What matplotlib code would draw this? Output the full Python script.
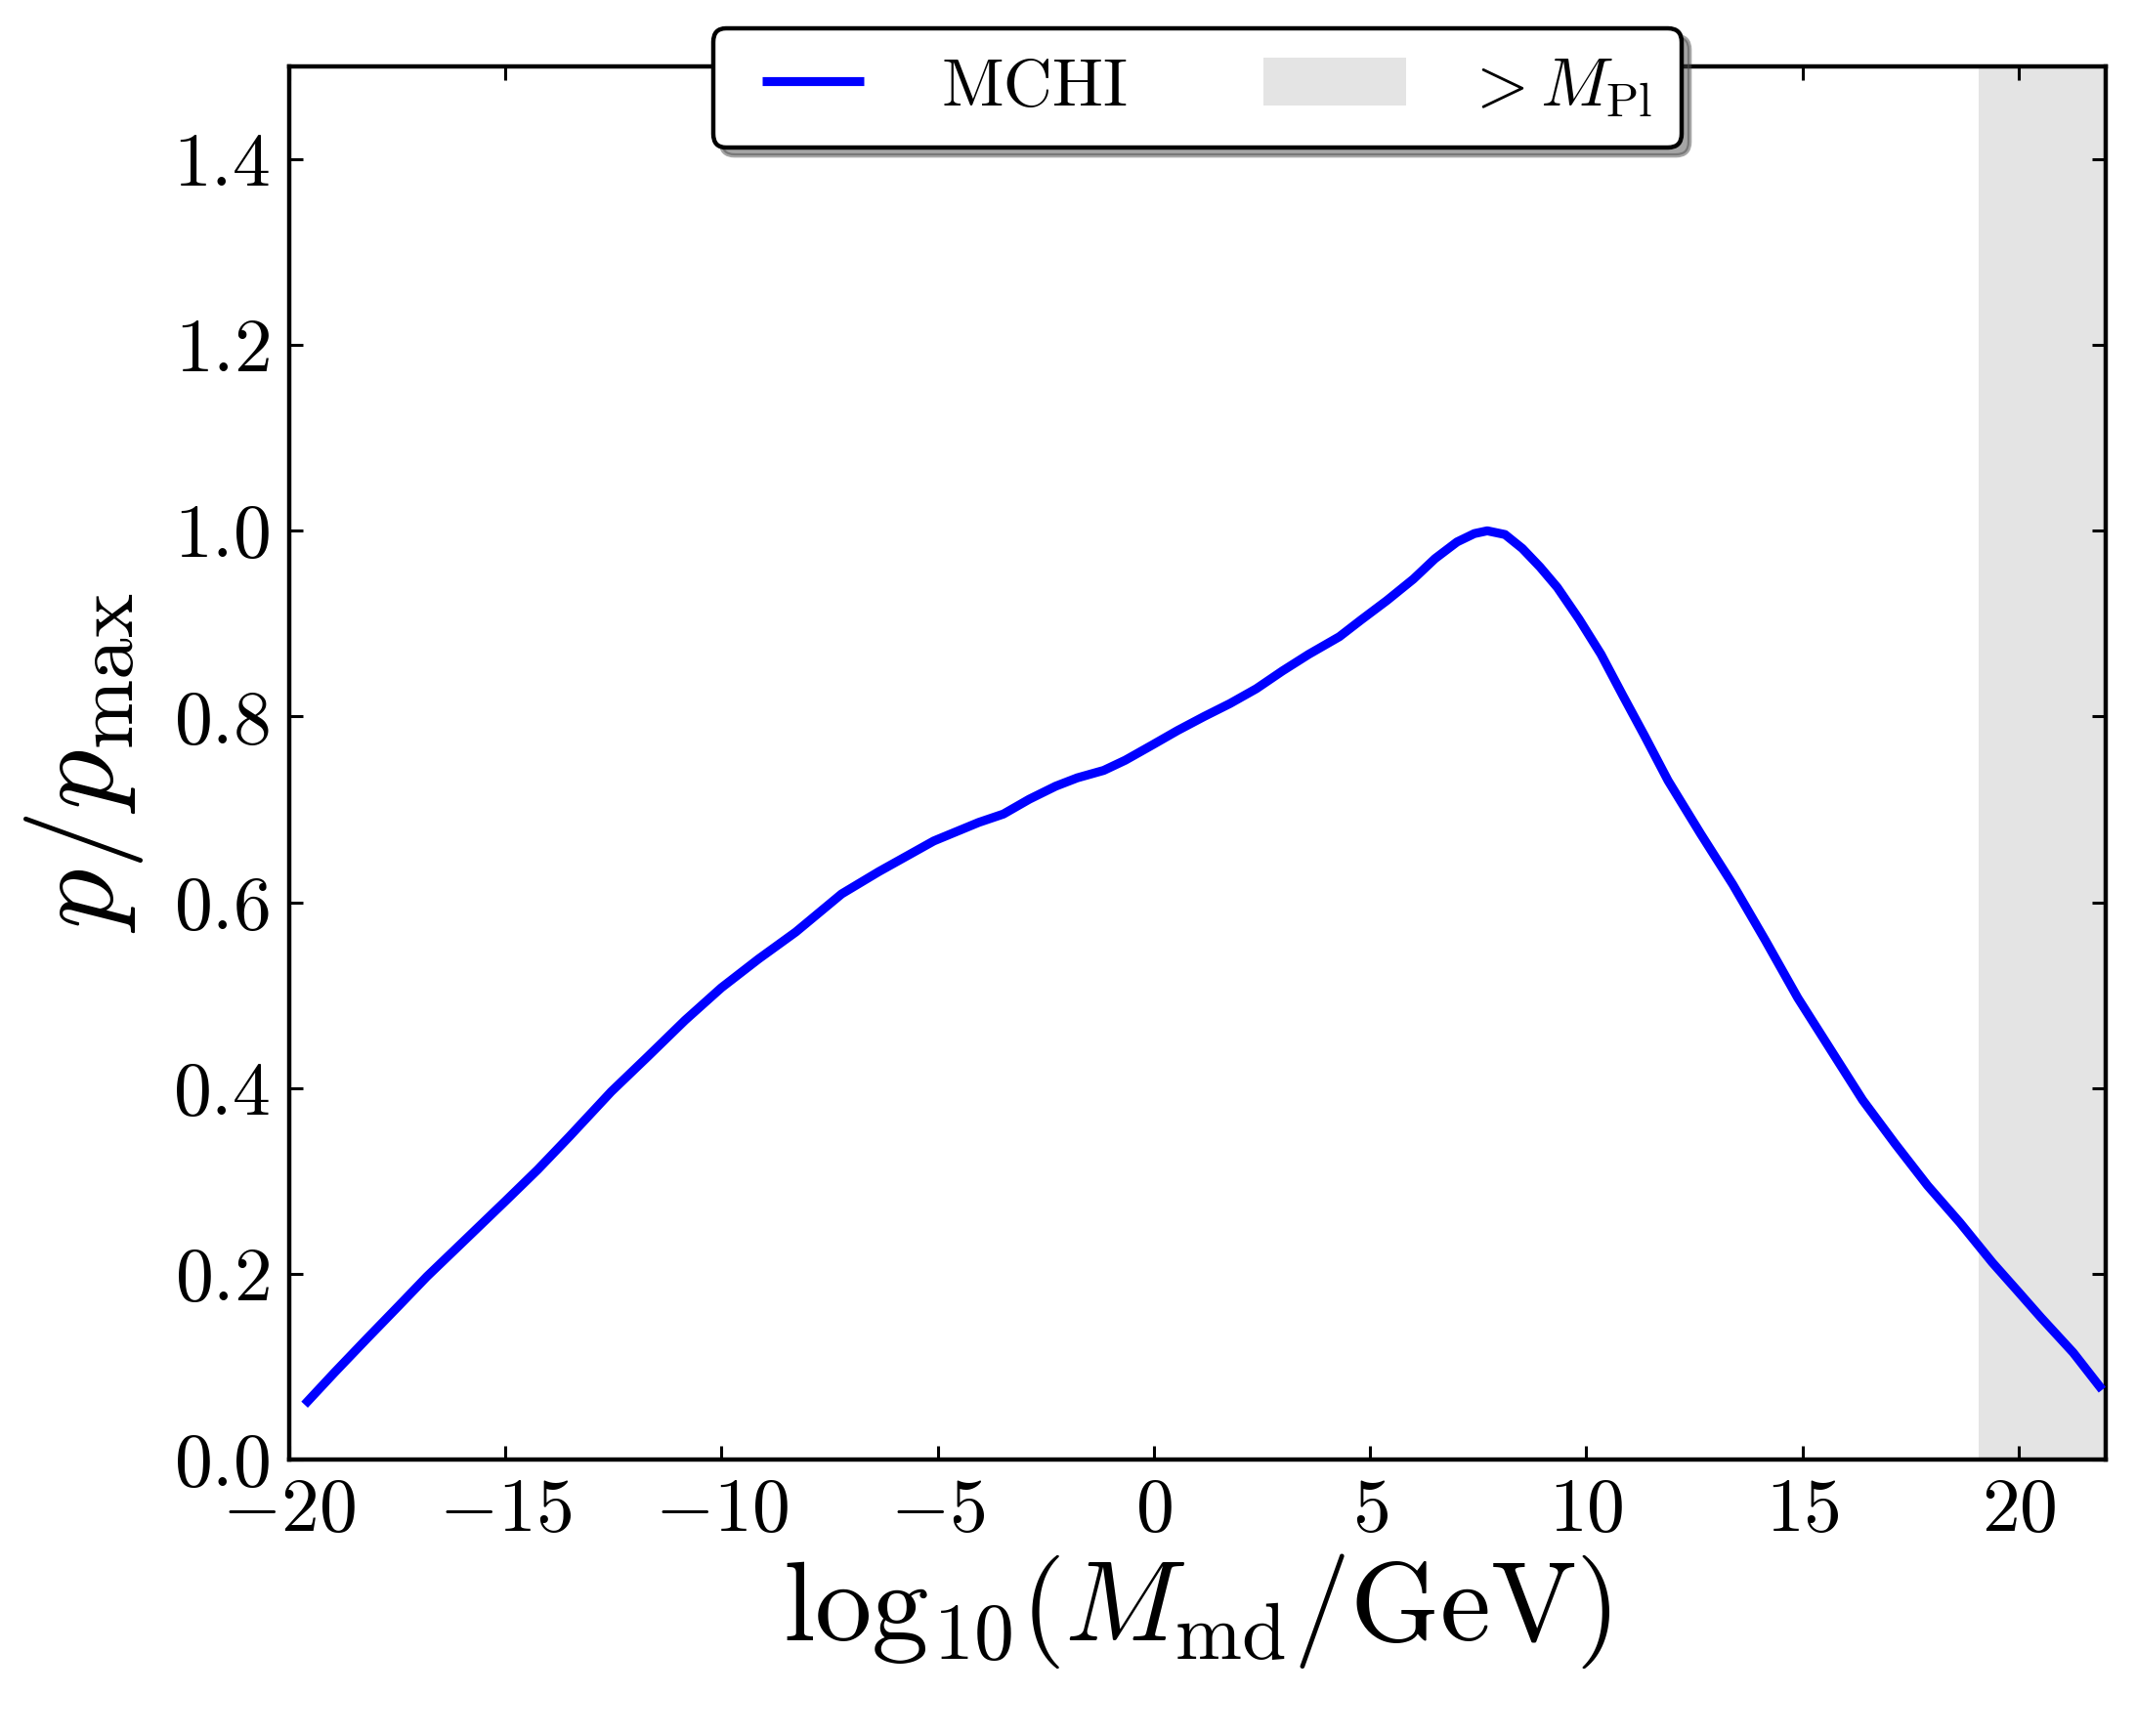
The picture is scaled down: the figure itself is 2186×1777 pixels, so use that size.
import matplotlib
matplotlib.use("Agg")
import matplotlib.pyplot as plt
from matplotlib.patches import Patch

plt.rcParams['font.family'] = 'serif'
plt.rcParams['font.serif'] = ['cmr10']
plt.rcParams['mathtext.fontset'] = 'cm'
plt.rcParams['axes.formatter.use_mathtext'] = True
plt.rcParams['axes.unicode_minus'] = True

# Data
log_mass = [-19.64, -18.94, -18.20, -17.45, -16.81, -15.96, -15.0, -14.25, -13.51,
            -12.55, -11.70, -10.84, -10.0, -9.14, -8.28, -7.22, -6.36, -5.09, -4.05,
            -3.48, -2.88, -2.27, -1.77, -1.16, -0.66, -0.05, 0.55, 1.16, 1.76,
            2.37, 2.97, 3.58, 4.29, 4.79, 5.39, 6.00, 6.50, 7.01, 7.41, 7.71,
            8.12, 8.52, 8.93, 9.33, 9.83, 10.34, 10.84, 11.35, 11.89, 12.64,
            13.39, 14.14, 14.89, 15.64, 16.39, 17.14, 17.89, 18.64, 19.39, 20.0,
            20.51, 21.26, 21.93]
prob = [0.059, 0.094, 0.130, 0.166, 0.197, 0.235, 0.278, 0.312, 0.348,
        0.396, 0.434, 0.473, 0.508, 0.539, 0.568, 0.609, 0.633, 0.666, 0.686,
        0.695, 0.711, 0.725, 0.734, 0.742, 0.753, 0.769, 0.785, 0.800, 0.814,
        0.830, 0.849, 0.867, 0.886, 0.904, 0.925, 0.948, 0.970, 0.988, 0.997, 1.000,
        0.996, 0.981, 0.961, 0.939, 0.905, 0.867, 0.823, 0.779, 0.731, 0.674,
        0.619, 0.559, 0.497, 0.442, 0.387, 0.340, 0.295, 0.255, 0.212, 0.180,
        0.153, 0.115, 0.075]
planck_log = 19.07
x_range = [-20, 22]
y_range = [0.0, 1.5]
x_ticks = [-20, -15, -10, -5, 0, 5, 10, 15, 20]
y_ticks = [0.0, 0.2, 0.4, 0.6, 0.8, 1.0, 1.2, 1.4]

fig = plt.figure(figsize=(10.93, 8.885), dpi=200)
ax = fig.add_axes([0.1353, 0.1593, 0.8503, 0.8024])

shade_color = '#e4e4e4'
ax.axvspan(planck_log, x_range[1], color=shade_color, lw=0, zorder=0)
line, = ax.plot(log_mass, prob, color='blue', lw=3.3, label='MCHI', zorder=3,
                solid_joinstyle='round', solid_capstyle='butt')

ax.set_xlim(*x_range)
ax.set_ylim(*y_range)
ax.set_xticks(x_ticks)
ax.set_yticks(y_ticks)
ax.yaxis.set_major_formatter(matplotlib.ticker.FormatStrFormatter(r'$%.1f$'))
ax.xaxis.set_major_formatter(matplotlib.ticker.FuncFormatter(
    lambda v, p: r'$%d$' % v if v >= 0 else r'$-%d$' % (-v)))

for s in ax.spines.values():
    s.set_linewidth(1.6)
ax.tick_params(direction='in', top=True, right=True, length=5, width=1.1,
               labelsize=28, pad=7)

ax.set_xlabel(r'$\mathrm{log}_{10}(M_{\rm md}/{\rm GeV})$', fontsize=42, labelpad=2)
ax.set_ylabel(r'$p/p_{\rm max}$', fontsize=44, labelpad=10)

handles = [line, Patch(facecolor=shade_color, edgecolor='none', label=r'$>M_{\rm Pl}$')]
leg = ax.legend(handles=handles, loc='upper center', bbox_to_anchor=(0.5, 1.052),
                ncol=2, numpoints=2, fancybox=True, shadow={'ox': 3, 'oy': -3},
                fontsize=25, handlelength=2.1, handletextpad=0.85,
                columnspacing=2.0, borderpad=0.42, framealpha=1)
leg.get_frame().set_edgecolor('black')
leg.get_frame().set_linewidth(1.6)

fig.savefig('out.png', dpi=200)
